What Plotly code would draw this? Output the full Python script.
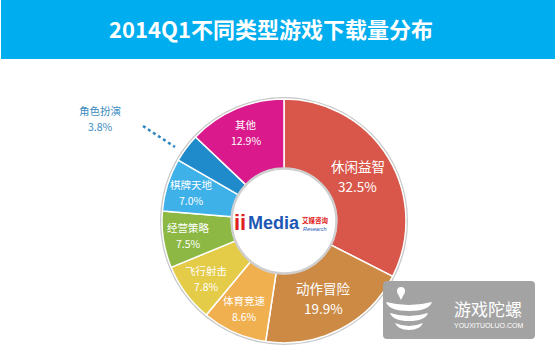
import math
import plotly.graph_objects as go

W, H = 555, 355

title = "2014Q1不同类型游戏下载量分布"
categories = ["休闲益智", "动作冒险", "体育竞速", "飞行射击", "经营策略", "棋牌天地", "角色扮演", "其他"]
values = [32.5, 19.9, 8.6, 7.8, 7.5, 7.0, 3.8, 12.9]
colors = ["#d9574a", "#cd8a45", "#f1b050", "#e4cb48", "#8cb843", "#3fb1e9", "#1f8bcb", "#d9198c"]
font_sizes = [13.5, 13.5, 10.5, 10.5, 10.5, 10.5, 10.5, 10.5]
outside_label = "角色扮演"

FONT = "Noto Sans CJK SC"


def px(x):
    return x / W


def py(y):
    return 1 - y / H


cx, cy, R = 284, 221, 122
hole = 0.43

fig = go.Figure()
fig.add_trace(go.Pie(
    labels=categories,
    values=values,
    textinfo="none",
    marker=dict(colors=colors, line=dict(color="white", width=1.5)),
    sort=False,
    direction="clockwise",
    rotation=0,
    hole=hole,
    showlegend=False,
    hoverinfo="none",
    domain=dict(x=[px(cx - R), px(cx + R)], y=[py(cy + R), py(cy - R)]),
))

shapes = []
# title bar
shapes.append(dict(type="rect", xref="paper", yref="paper", x0=px(1), x1=px(555), y0=py(59), y1=py(0),
                   fillcolor="#00adee", line=dict(width=0), layer="below"))
# outer rim shadow
shapes.append(dict(type="circle", xref="paper", yref="paper",
                   x0=px(cx - R - 2), x1=px(cx + R + 2), y0=py(cy + R + 2), y1=py(cy - R - 2),
                   fillcolor="#c8c8c8", line=dict(width=0), layer="below"))
# hole ring
hr = R * hole
shapes.append(dict(type="circle", xref="paper", yref="paper",
                   x0=px(cx - hr), x1=px(cx + hr), y0=py(cy + hr), y1=py(cy - hr),
                   fillcolor="white", line=dict(color="#cfcfcf", width=2.5), layer="above"))
# dotted leader for outside label
shapes.append(dict(type="line", xref="paper", yref="paper",
                   x0=px(143), y0=py(126), x1=px(175), y1=py(147),
                   line=dict(color="#2f86c0", width=2.5, dash="dot"), layer="above"))
# watermark box (rounded)
bx0, bx1, by0, by1, rc = 383, 535, 281, 339, 4
shapes.append(dict(type="path", xref="paper", yref="paper",
                   path=(f"M {px(bx0 + rc)} {py(by0)} L {px(bx1 - rc)} {py(by0)} "
                         f"Q {px(bx1)} {py(by0)} {px(bx1)} {py(by0 + rc)} L {px(bx1)} {py(by1 - rc)} "
                         f"Q {px(bx1)} {py(by1)} {px(bx1 - rc)} {py(by1)} L {px(bx0 + rc)} {py(by1)} "
                         f"Q {px(bx0)} {py(by1)} {px(bx0)} {py(by1 - rc)} L {px(bx0)} {py(by0 + rc)} "
                         f"Q {px(bx0)} {py(by0)} {px(bx0 + rc)} {py(by0)} Z"),
                   fillcolor="#a3a3a3", line=dict(width=0), layer="above"))
# watermark icon: drop + bowl
shapes.append(dict(type="circle", xref="paper", yref="paper", x0=px(397), x1=px(405), y0=py(295), y1=py(287),
                   fillcolor="white", line=dict(width=0), layer="above"))
shapes.append(dict(type="path", xref="paper", yref="paper",
                   path=f"M {px(397.5)} {py(293)} L {px(401)} {py(300)} L {px(404.5)} {py(293)} Z",
                   fillcolor="white", line=dict(width=0), layer="above"))
for (y0, y1, x0, x1) in [(302, 311, 386, 432), (313, 321, 390, 428), (323, 330, 395, 423)]:
    xm = (x0 + x1) / 2
    shapes.append(dict(type="path", xref="paper", yref="paper",
                       path=(f"M {px(x0)} {py(y0)} Q {px(xm)} {py(y0 + 6)} {px(x1)} {py(y0)} "
                             f"Q {px(x1 - 3)} {py(y1)} {px(xm)} {py(y1)} Q {px(x0 + 3)} {py(y1)} {px(x0)} {py(y0)} Z"),
                       fillcolor="white", line=dict(width=0), layer="above"))


def ann(x, y, text, size, color, family=FONT):
    return dict(x=px(x), y=py(y), xref="paper", yref="paper", showarrow=False,
                xanchor="center", yanchor="middle", align="center", borderpad=0,
                text=text, font=dict(color=color, size=size, family=family))


annotations = []
# slice labels placed at each slice's mid-angle (derived from the values)
total = sum(values)
cum = 0.0
for c, v, fs in zip(categories, values, font_sizes):
    mid = (cum + v / 2) / total * 2 * math.pi
    cum += v
    if c == outside_label:
        continue
    rr = R * (0.71 if v > 15 else 0.79)
    lx = cx + rr * math.sin(mid)
    ly = cy - rr * math.cos(mid)
    half = max(16, fs * 1.45) / 2
    annotations.append(ann(lx, ly - half, c, fs, "white"))
    annotations.append(ann(lx, ly + half, f"{v:.1f}%", fs, "white"))
# outside label
annotations.append(ann(100, 110, outside_label, 10.5, "#3a8cc0"))
annotations.append(ann(100, 127, f"{values[categories.index(outside_label)]:.1f}%", 10.5, "#3a8cc0"))
# center logo
annotations.append(ann(240, 222, "<b>ii</b>", 22, "#e02020", "Liberation Sans"))
annotations.append(ann(274, 223, "<b>Media</b>", 18, "#1c58b4", "Liberation Sans"))
annotations.append(ann(315, 220, "<b>艾媒咨询</b>", 6.5, "#e02020"))
annotations.append(ann(315, 229, "<i>Research</i>", 5.5, "#1c58b4", "Liberation Sans"))
# watermark text
annotations.append(ann(488, 308, "游戏陀螺", 17, "white"))
annotations.append(ann(488, 325, "YOUXITUOLUO.COM", 7, "white", "Liberation Sans"))

fig.update_layout(
    width=W, height=H,
    margin=dict(l=0, r=0, t=0, b=0),
    paper_bgcolor="white",
    plot_bgcolor="white",
    title=dict(text=f"<b>{title}</b>", x=px(271), y=py(30), xanchor="center", yanchor="middle",
               xref="paper", yref="paper",
               font=dict(color="white", size=22, family=FONT)),
    shapes=shapes,
    annotations=annotations,
)

fig.write_html("out.html", config={"displayModeBar": False},
               post_script="document.body.style.margin='0';")
